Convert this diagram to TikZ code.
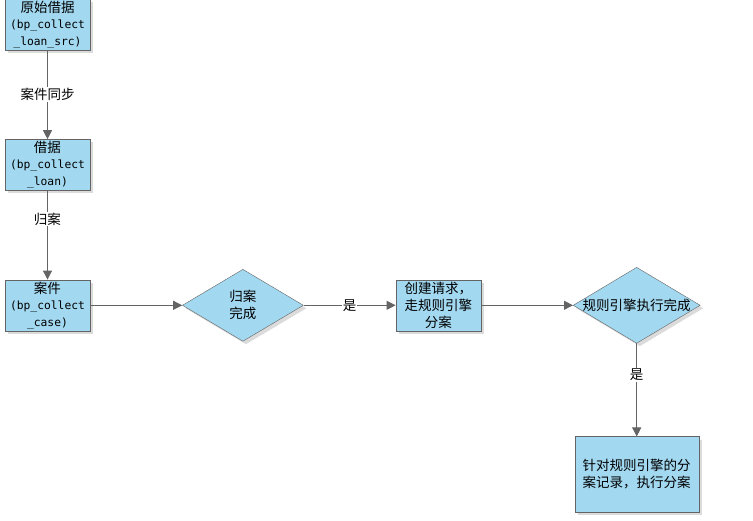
\documentclass[tikz,border=0pt]{standalone}
\usepackage{fontspec}
\setmainfont{Noto Sans CJK SC}
\setmonofont{DejaVu Sans Mono}
\usetikzlibrary{positioning,arrows.meta,shapes.geometric,shadows}
\definecolor{boxblue}{RGB}{162,216,240}
\definecolor{edgegray}{RGB}{100,100,100}
\newcommand{\mono}[1]{{\ttfamily\fontsize{11.3}{17}\selectfont #1}}

\begin{document}
\begin{tikzpicture}[
  x=1pt, y=1pt,
  font=\fontsize{13.5}{17}\selectfont,
  box/.style={draw=edgegray, fill=boxblue, align=center, inner sep=1pt,
    minimum width=85pt, minimum height=51pt,
    drop shadow={shadow xshift=3pt, shadow yshift=-3pt, fill=black!14, opacity=1}},
  dec/.style={diamond, draw=edgegray, fill=boxblue, align=center, inner sep=0pt,
    drop shadow={shadow xshift=3pt, shadow yshift=-3pt, fill=black!14, opacity=1}},
  arr/.style={-{Triangle[length=9pt,width=9pt]}, line width=0.9pt, draw=edgegray},
  lbl/.style={fill=white, inner sep=1pt},
]
\useasboundingbox (0,0) rectangle (753,-521);

%% ============ left column: source tables ============
\node[box] (src) at (47.5,-24.5) {原始借据\\[-1pt]\mono{(bp\_collect}\\\mono{\_loan\_src)}};
\node[box, below=89pt of src] (loan) {借据\\[-1pt]\mono{(bp\_collect}\\\mono{\_loan)}};
\node[box, below=89pt of loan] (case) {案件\\[-1pt]\mono{(bp\_collect}\\\mono{\_case)}};

%% ============ main row: rule engine ============
\node[dec, minimum width=121pt, minimum height=72pt, right=92pt of case] (done) {归案\\完成};
\node[box, right=92pt of done] (req) {创建请求，\\走规则引擎\\分案};
\node[dec, minimum width=127pt, minimum height=76pt, right=92pt of req] (eng) {\makebox[0pt]{规则引擎执行完成}};
\node[box, minimum width=124pt, minimum height=75pt, below=93pt of eng] (res) {针对规则引擎的分\\案记录，执行分案};

%% ============ flows ============
\draw[arr] (src) -- node[lbl] {案件同步} (loan);
\draw[arr] (loan) -- node[lbl, pos=0.32] {归案} (case);
\draw[arr] (case) -- (done);
\draw[arr] (done) -- node[lbl] {是} (req);
\draw[arr] (req) -- (eng);
\draw[arr] (eng) -- node[lbl, pos=0.34] {是} (res);

\end{tikzpicture}
\end{document}
